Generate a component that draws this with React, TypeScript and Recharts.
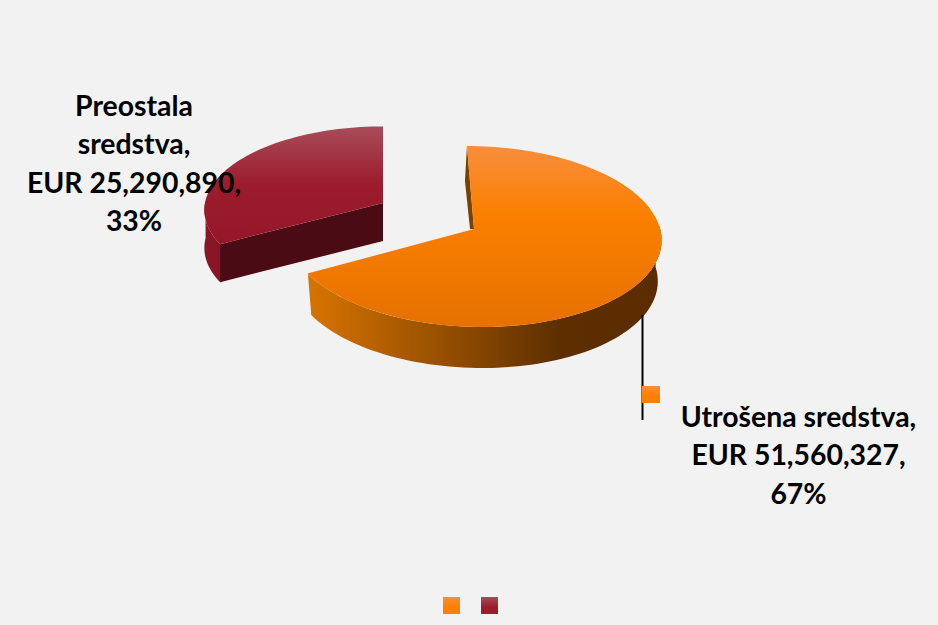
import React from 'react'
import { PieChart, Pie, Cell, Legend } from 'recharts'

const sliceNames = ['Utrošena sredstva', 'Preostala sredstva']
const sliceValues = [51560327, 25290890]

const chartData = sliceNames.map((name, i) => ({ name, value: sliceValues[i] }))

const LABEL_FONT = 'Lato, "Open Sans", sans-serif'

// per slice drawing setup, the pie is faked 3D so each wedge has its own offset and squash
const SLICE_LOOK = [
  {
    dx: 46, dy: 13, rxScale: 0.99, ryScale: 0.478, shear: 0.085, depth: 41, shrink: 0.02, wallFrom: 88, wallTo: 241.2,
    top: ['#f98d3c', '#fb8000', '#e67100'], stops: [0, 0.38, 1],
    wall: ['#d87400', '#5c2e00', '#5a2c00'], wallStops: [0, 0.72, 1],
    key: ['#f98d3c', '#fb8000'],
  },
  {
    dx: -45, dy: -13, rxScale: 0.947, ryScale: 0.441, shear: 0, depth: 38, shrink: 0, wallFrom: 241.2, wallTo: 272,
    top: ['#a84c5a', '#9c1b2c', '#94182a'], stops: [0, 0.5, 1],
    wall: ['#8a1526', '#8a1526', '#8a1526'], wallStops: [0, 0.5, 1],
    key: ['#a84c5a', '#9c1b2c'],
  },
]

const LABEL_LOOK = [
  { x: 798.5, y: 427, lines: (n: string, v: string, p: string) => [`${n},`, `EUR ${v},`, `${p}%`] },
  {
    x: 134,
    y: 116,
    lines: (n: string, v: string, p: string) => {
      const [a, b] = n.split(' ')
      return [a, `${b},`, `EUR ${v},`, `${p}%`]
    },
  },
]

const PERSPECTIVE = 0.083

const projector = (ax: number, ay: number, rx: number, ry: number, shear: number) => (deg: number) => {
  const t = (deg * Math.PI) / 180
  const u = Math.sin(t)
  const v = -Math.cos(t)
  const w = 1 - PERSPECTIVE * v
  const y = (ry * v) / w
  return { x: ax + (rx * u) / w + shear * y, y: ay + y }
}

const arcPoints = (fn: (d: number) => { x: number; y: number }, from: number, to: number) => {
  const pts = []
  const steps = Math.max(2, Math.ceil(Math.abs(to - from) / 2))
  for (let i = 0; i <= steps; i++) pts.push(fn(from + ((to - from) * i) / steps))
  return pts
}

const toPath = (pts: Array<{ x: number; y: number }>) =>
  pts.map((p, i) => `${i === 0 ? 'M' : 'L'}${p.x.toFixed(2)} ${p.y.toFixed(2)}`).join(' ') + ' Z'

const Slice3D = (props: any) => {
  const { cx, cy, outerRadius, startAngle, endAngle, index } = props
  const look = SLICE_LOOK[index] ?? SLICE_LOOK[0]
  const ax = cx + look.dx
  const ay = cy + look.dy
  const project = projector(ax, ay, outerRadius * look.rxScale, outerRadius * look.ryScale, look.shear)
  const from = 90 - startAngle
  const to = 90 - endAngle
  const lower = (p: { x: number; y: number }) => ({ x: p.x + (ax - p.x) * look.shrink, y: p.y + look.depth })

  const topFace = [{ x: ax, y: ay }, ...arcPoints(project, from, to)]
  const rim = arcPoints(project, look.wallFrom, look.wallTo)
  const wall = [...rim, ...rim.map(lower).reverse()]
  const begin = project(from)
  const cutWall = [begin, { x: ax, y: ay }, { x: ax, y: ay + look.depth }, lower(begin)]
  const sliver = [begin, { x: begin.x - 2, y: begin.y + 35 }, { x: ax - 4, y: ay }, { x: ax, y: ay }]

  return (
    <g>
      <defs>
        <linearGradient id={`top-${index}`} x1="0" y1="0" x2="0" y2="1">
          {look.top.map((c, i) => (
            <stop key={i} offset={look.stops[i]} stopColor={c} />
          ))}
        </linearGradient>
        <linearGradient id={`wall-${index}`} x1="0" y1="0" x2="1" y2="0">
          {look.wall.map((c, i) => (
            <stop key={i} offset={look.wallStops[i]} stopColor={c} />
          ))}
        </linearGradient>
      </defs>
      <path d={toPath(wall)} fill={`url(#wall-${index})`} />
      {index === 1 && <path d={toPath(cutWall)} fill="#4a0b14" />}
      {index === 0 && <path d={toPath(sliver)} fill="#7a4200" />}
      <path d={toPath(topFace)} fill={`url(#top-${index})`} />
    </g>
  )
}

const renderLabel = (props: any) => {
  const { name, value, percent, index } = props
  const look = LABEL_LOOK[index]
  const lines = look.lines(name, Number(value).toLocaleString('en-US'), Math.round(percent * 100).toString())
  const keyColors = SLICE_LOOK[index].key
  return (
    <g>
      {index === 0 && (
        <>
          <line x1={642.5} y1={315} x2={642.5} y2={420} stroke="#000" strokeWidth={2} />
          <defs>
            <linearGradient id="key-0" x1="0" y1="0" x2="0" y2="1">
              <stop offset={0} stopColor={keyColors[0]} />
              <stop offset={0.6} stopColor={keyColors[1]} />
            </linearGradient>
          </defs>
          <rect x={642} y={386} width={18} height={17} fill="url(#key-0)" />
        </>
      )}
      <text
        x={look.x}
        y={look.y}
        textAnchor="middle"
        fontFamily={LABEL_FONT}
        fontWeight={700}
        fontSize={28.4}
        fill="#000"
      >
        {lines.map((line: string, i: number) => (
          <tspan key={i} x={look.x} dy={i === 0 ? 0 : 38.3}>
            {line}
          </tspan>
        ))}
      </text>
    </g>
  )
}

const renderLegend = (props: any) => {
  const payload = props.payload ?? []
  return (
    <div style={{ display: 'flex', gap: 21 }}>
      {payload.map((entry: any, i: number) => (
        <div
          key={i}
          title={entry.value}
          style={{
            width: 17,
            height: 17,
            background: `linear-gradient(${SLICE_LOOK[i].key[0]}, ${SLICE_LOOK[i].key[1]} 60%)`,
          }}
        />
      ))}
    </div>
  )
}

export default function App() {
  return (
    <div style={{ position: 'absolute', left: 0, top: 0, width: 938, height: 625, background: '#f2f2f2' }}>
      <PieChart width={938} height={625} margin={{ top: 0, right: 0, bottom: 0, left: 0 }}>
        <Pie
          data={chartData}
          dataKey="value"
          nameKey="name"
          cx={428}
          cy={216}
          outerRadius={188}
          startAngle={90}
          endAngle={-270}
          stroke="none"
          shape={Slice3D}
          label={renderLabel}
          labelLine={false}
          isAnimationActive={false}
        >
          {chartData.map((_, index) => (
            <Cell key={`cell-${index}`} fill={SLICE_LOOK[index].key[1]} />
          ))}
        </Pie>
        <Legend
          content={renderLegend}
          wrapperStyle={{ position: 'absolute', left: 443, top: 597, width: 80, height: 17 }}
        />
      </PieChart>
    </div>
  )
}
